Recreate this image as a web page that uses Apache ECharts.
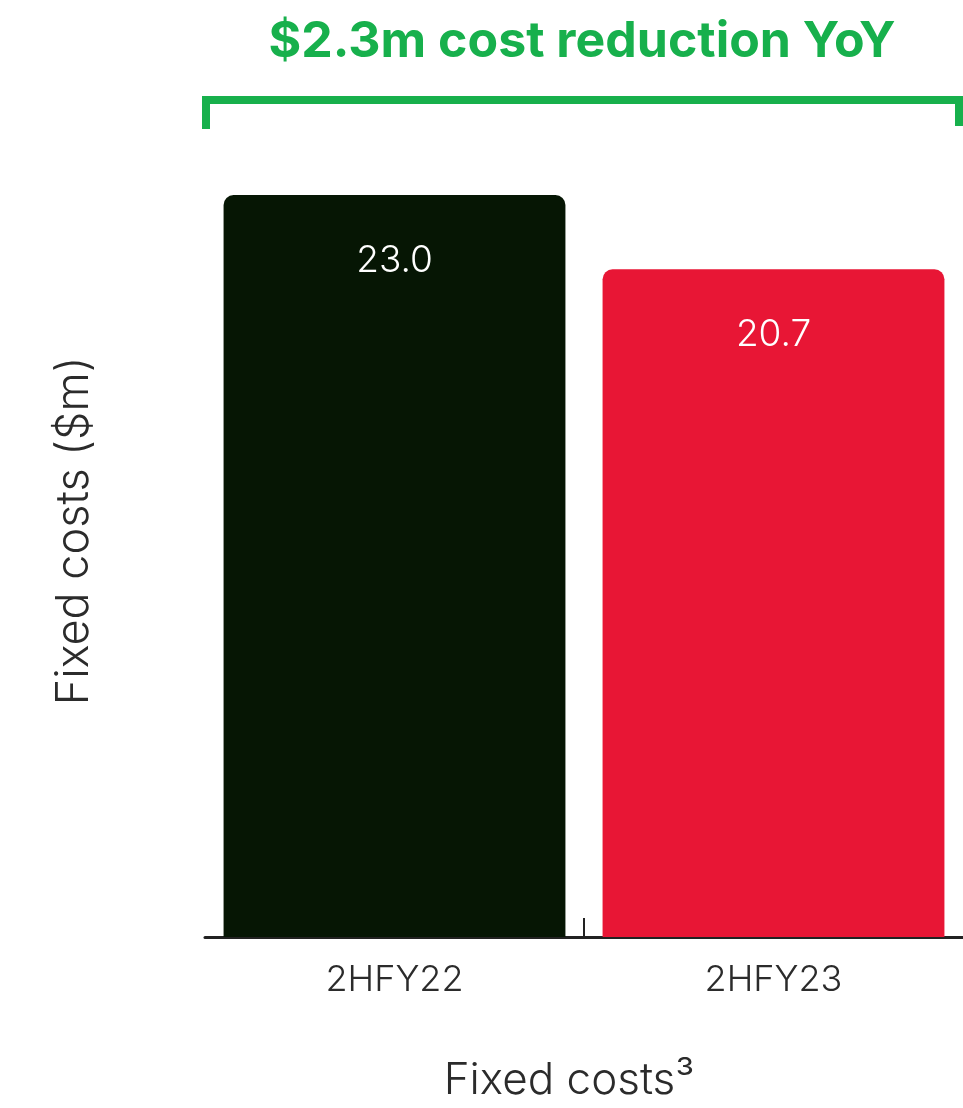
<!DOCTYPE html>
<html>
<head>
<meta charset="utf-8">
<title>Fixed costs</title>
<script src="https://cdn.jsdelivr.net/npm/echarts@6/dist/echarts.min.js"></script>
<style>
  html, body { margin: 0; padding: 0; background: #ffffff; }
  #chart { width: 963px; height: 1108px; }
</style>
</head>
<body>
<div id="chart"></div>
<script>
// Half-year periods and fixed costs in $m
const periods = ['2HFY22', '2HFY23'];
const fixedCosts = [23.0, 20.7];
const barColors = ['#061604', '#E81635'];
const headline = '$2.3m cost reduction YoY';
const xName = 'Fixed costs\u00B3';
const yName = 'Fixed costs ($m)';
// divider tick sits between the two periods
const dividerSlots = ['', 'mid', ''];

const chart = echarts.init(document.getElementById('chart'), null, { renderer: 'canvas' });

const green = '#17B04C';
const textFont = 'Inter';

const option = {
  backgroundColor: '#ffffff',
  animation: false,
  title: {
    text: headline,
    left: 577,
    top: 12,
    textAlign: 'center',
    textStyle: {
      color: green,
      fontFamily: 'Inter',
      fontWeight: 'bold',
      fontSize: 50
    }
  },
  grid: { left: 205, right: 0, top: 125, bottom: 170 },
  xAxis: [
    {
      type: 'category',
      data: periods,
      axisLine: { lineStyle: { color: '#222222', width: 3 } },
      axisTick: { show: false },
      axisLabel: {
        margin: 25,
        color: '#2b2b2b',
        fontFamily: textFont,
        fontWeight: 300,
        fontSize: 36
      },
      name: xName,
      nameLocation: 'middle',
      nameGap: 122,
      nameTextStyle: {
        color: '#2b2b2b',
        fontFamily: textFont,
        fontWeight: 300,
        fontSize: 44,
        padding: [0, 30, 0, 0]
      }
    },
    {
      type: 'category',
      data: dividerSlots,
      position: 'bottom',
      boundaryGap: false,
      axisLine: { show: false },
      axisLabel: { show: false },
      axisTick: {
        show: true,
        inside: true,
        length: 19,
        alignWithLabel: true,
        interval: function (idx) { return idx === 1; },
        lineStyle: { color: '#222222', width: 2 }
      }
    }
  ],
  yAxis: {
    type: 'value',
    min: 0,
    max: 25.17,
    axisLine: { show: false },
    axisTick: { show: false },
    axisLabel: { show: false },
    splitLine: { show: false },
    name: yName,
    nameLocation: 'middle',
    nameGap: 108,
    nameTextStyle: {
      color: '#2b2b2b',
      fontFamily: textFont,
      fontWeight: 300,
      fontSize: 45
    }
  },
  series: [
    {
      type: 'bar',
      xAxisIndex: 0,
      barCategoryGap: '9.8%',
      data: fixedCosts.map((v, i) => ({
        value: v,
        itemStyle: { color: barColors[i], borderRadius: [10, 10, 0, 0] }
      })),
      label: {
        show: true,
        position: 'insideTop',
        distance: 47,
        color: '#ffffff',
        fontFamily: textFont,
        fontWeight: 300,
        fontSize: 37,
        formatter: p => p.value.toFixed(1)
      }
    }
  ],
  graphic: [
    {
      type: 'polyline',
      shape: { points: [[206, 129], [206, 100], [959, 100], [959, 126]] },
      style: { stroke: green, lineWidth: 8, fill: null, lineJoin: 'miter', lineCap: 'butt' }
    }
  ]
};

chart.setOption(option);
</script>
</body>
</html>
